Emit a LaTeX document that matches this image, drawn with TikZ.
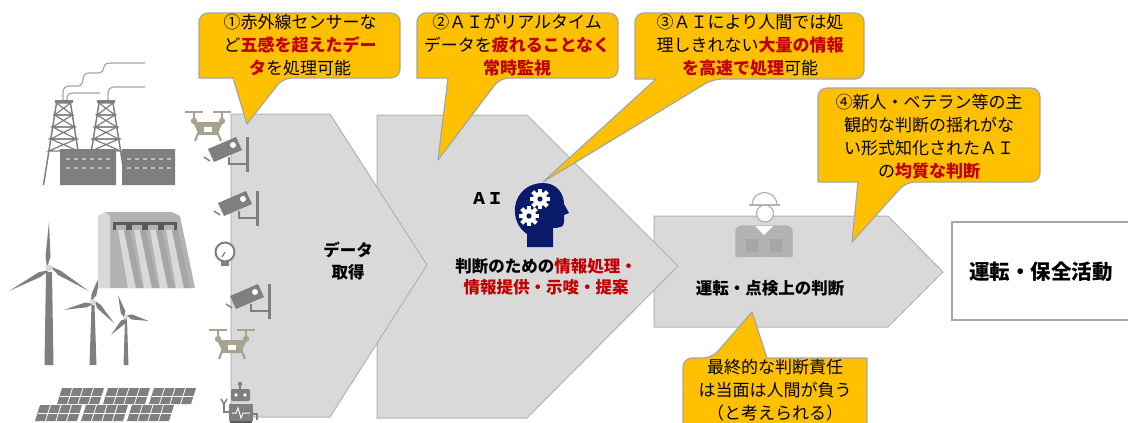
\documentclass[tikz,border=0pt]{standalone}
\usepackage{fontspec}
\setmainfont{Noto Sans CJK JP}
\usepackage{tikz}
\definecolor{chevfill}{HTML}{D9D9D9}
\definecolor{chevline}{HTML}{B3B3B3}
\definecolor{noteyellow}{HTML}{FFC000}
\definecolor{noteline}{HTML}{A6A6A6}
\definecolor{keyred}{HTML}{C00000}
\definecolor{icongray}{HTML}{7F7F7F}
\definecolor{dronegray}{HTML}{A6A38F}
\definecolor{headnavy}{HTML}{0A1A6A}
\newcommand{\keyword}[1]{\textcolor{keyred}{\bfseries #1}}

\tikzset{
	camera/.pic={
		\fill[icongray] (-39,12) -- (-11,0) -- (-5,13) -- (-33,25) -- cycle;
		\fill[white] (-14,8) circle (3);
		\draw[icongray, line width=3] (0,0) -- (0,35);
		\draw[icongray, line width=2.5] (-18,20) -- (-18,27) -- (0,27);
		\draw[icongray, line width=1.5] (-43,20) -- (-37,24);
	},
	drone/.pic={
		\draw[dronegray, line width=1.5] (-23,2) -- (-5,2) (5,2) -- (23,2);
		\draw[dronegray, line width=2.5] (-14,2) -- (-14,9) (14,2) -- (14,9);
		\fill[dronegray] (-14,11) circle (3.2) (14,11) circle (3.2);
		\fill[dronegray] (-15,12) -- (15,12) -- (9,25) -- (-9,25) -- cycle;
		\draw[dronegray, line width=2.2] (-9,21) -- (-13,31) (9,21) -- (13,31);
		\fill[white] (-4,17) rectangle (4,22);
	},
	tower/.pic={
		\draw[icongray, line width=1.5] (-7,0) -- (-20,82) (7,0) -- (20,82);
		\foreach \a/\b in {0/12,12/24,24/36,36/48}
			\draw[icongray, line width=1.2] ({-7-\a*0.16},\a) -- ({7+\a*0.16},\a) -- ({-7-\b*0.16},\b) -- ({7+\b*0.16},\b) -- cycle;
		\fill[icongray] (-9,-3) rectangle (9,0);
	},
	blade/.pic={
		\fill[icongray] (0,-2) -- (#1*0.25,-3.5) -- (#1,0) -- (#1*0.25,1.5) -- cycle;
	},
	panel/.pic={
		\fill[icongray] (0,0) -- (42,0) -- (37,16) -- (-5,16) -- cycle;
		\draw[white, line width=0.8] (-2.5,8) -- (39.5,8);
		\foreach \i in {1,2,3}
			\draw[white, line width=0.8] (\i*10.5,0) -- (\i*10.5-5,16);
	},
	gear/.pic={
		\fill[white] (0,0) circle (5.5);
		\foreach \a in {0,45,...,315}
			\fill[white, rotate=\a] (-1.6,4) rectangle (1.6,8);
		\fill[headnavy] (0,0) circle (2);
	}
}

\begin{document}
\begin{tikzpicture}[x=1pt, y=-1pt,
	chevron/.style={fill=chevfill, draw=chevline, line width=1pt},
	callout/.style={fill=noteyellow, draw=noteline, line width=1.2pt, line join=round},
	notetext/.style={font=\fontsize{17}{23}\selectfont, align=center, inner sep=0},
	stagetext/.style={font=\bfseries\fontsize{16.5}{21.5}\selectfont, align=center, inner sep=0}]
	\useasboundingbox (0,0) rectangle (1128,423);
	\clip (0,0) rectangle (1128,423);

	\draw[noteline, line width=1.2] (63,100) -- (63,92) to[out=90,in=180] (69,86) -- (78,86) to[out=0,in=-90] (83,79) to[out=90,in=180] (89,73) -- (99,73) to[out=0,in=-90] (104,67) to[out=90,in=180] (111,63) -- (145,63);
	\draw[noteline, line width=1.2] (67,100) -- (67,97) to[out=90,in=180] (72,93) -- (100,93);
	\draw[noteline, line width=1.2] (108,100) -- (108,93) to[out=90,in=180] (114,87) -- (145,87);
	\pic at (63.5,103) {tower};
	\pic at (106,103) {tower};
	\fill[icongray] (60,149) rectangle (116,185) (122,149) rectangle (175,185);
	\draw[chevfill!70!icongray, dash pattern=on 4pt off 4pt, line width=1.2] (66,159) -- (112,159) (66,168) -- (112,168) (127,159) -- (171,159) (127,168) -- (171,168);

	\fill[icongray] (46,272) -- (52,272) -- (53.5,365) -- (44.5,365) -- cycle;
	\fill[icongray] (91.5,305) -- (94.5,305) -- (96.5,365) -- (89.5,365) -- cycle;
	\fill[icongray] (125,320) -- (127,320) -- (128.5,365) -- (123.5,365) -- cycle;
	\foreach \a in {90,210,330} \pic[rotate=\a] at (49,268) {blade=46};
	\foreach \a in {75,195,315} \pic[rotate=\a] at (93,302) {blade=30};
	\foreach \a in {110,230,350} \pic[rotate=\a] at (126,317) {blade=23};
	\fill[chevfill] (49,268) circle (3.5) (93,302) circle (3) (126,317) circle (2.5);

	\fill[chevline] (98,216) -- (106,212) -- (172,212) -- (180,216) -- (195,288) -- (98,288) -- cycle;
	\fill[chevfill] (98,216) -- (106,212) -- (110,216) -- (110,288) -- (98,288) -- cycle;
	\foreach \i in {0,1,2,3} {
		\fill[chevfill] (118+16*\i,230) -- (124+16*\i,230) -- (136+16*\i,288) -- (128+16*\i,288) -- cycle;
		\fill[noteline] (124+16*\i,230) -- (130+16*\i,230) -- (142+16*\i,288) -- (136+16*\i,288) -- cycle;
		\draw[icongray!70!black, line width=3] (114+16*\i,230) -- (114+16*\i,223) -- (127+16*\i,223) -- (127+16*\i,230);
	}

	\foreach \x in {62,108,154} \pic at (\x,388) {panel};
	\foreach \x in {40,86,132} \pic at (\x,405) {panel};

	\draw[chevron] (654,216) -- (888,216) -- (943,272) -- (888,327) -- (654,327) -- cycle;
	\draw[chevron] (377,115) -- (527,115) -- (678,266) -- (527,418) -- (377,418) -- cycle;
	\draw[chevron] (231,114) -- (330,114) -- (427,265) -- (330,417) -- (231,417) -- cycle;
	\draw[noteline, line width=2.5, fill=white] (952,222) rectangle (1134,320);

	\pic at (208,110) {drone};
	\pic at (232,328) {drone};
	\pic at (247,137) {camera};
	\pic at (257,191) {camera};
	\pic at (269,284) {camera};
	\draw[icongray, line width=2, fill=white] (225,252) circle (9.5);
	\draw[icongray, line width=1.2] (225,252) -- (222,257);
	\fill[icongray] (221,261) rectangle (229,266);

	\fill[icongray] (240,384) circle (2.2);
	\draw[icongray, line width=1.5] (240,384) -- (240,389);
	\fill[icongray, rounded corners=2] (231,389) rectangle (250,401);
	\fill[white] (236,395) circle (1.8) (245,395) circle (1.8);
	\fill[icongray] (229,404) rectangle (253,421);
	\draw[white, line width=1] (232,413) -- (236,413) -- (238,408) -- (241,418) -- (243,413) -- (250,413);
	\draw[icongray, line width=2.5] (229,412) -- (224,412) -- (224,404);
	\draw[icongray, line width=1.5] (221,399) -- (224,404) -- (227,399);
	\draw[icongray, line width=2.5] (253,414) -- (257,414) -- (257,420);
	\fill[icongray!70!black] (230,421) rectangle (252,427);

	\fill[headnavy] (527,247) -- (527,234) .. controls (518,228) and (514,218) .. (515,207) .. controls (517,192) and (529,183) .. (543,183) .. controls (557,183) and (564,194) .. (564,204) -- (569,213) -- (564,215) -- (564,222) .. controls (564,226) and (561,228) .. (553,228) -- (553,247) -- cycle;
	\pic[scale=1.3] at (540,199) {gear};
	\pic[scale=1.3] at (529,216) {gear};

	\draw[icongray!60, line width=1.2, fill=chevline] (736,257) -- (736,232) [rounded corners=6] -- (736,226) -- (792,226) [sharp corners] -- (792,257);
	\fill[white] (755,226) -- (773,226) -- (764,235) -- cycle;
	\draw[icongray!60, line width=1] (764,235) -- (764,257) (743,240) -- (743,257) (785,240) -- (785,257);
	\fill[noteline] (746,239) rectangle (758,252) (770,239) rectangle (782,252);
	\draw[icongray!60, line width=1.2, fill=white] (765,213.5) circle (8.5);
	\draw[icongray!60, line width=1.2, fill=white] (752,205) arc[start angle=180, end angle=360, radius=12.5] -- cycle;
	\draw[icongray!60, line width=1.2] (749,205) -- (780,205);

	\node[stagetext] (acquire) at (348,261) {データ\\取得};
	\node[stagetext, font=\bfseries\fontsize{16}{20}\selectfont] (ailabel) at (487,199) {ＡＩ};
	\node[stagetext] (process) at (546,277) {判断のための\keyword{情報処理・}\\\keyword{情報提供・示唆・提案}};
	\node[stagetext] (judge) at (770,288) {運転・点検上の判断};
	\node[stagetext, font=\bfseries\fontsize{20.5}{24}\selectfont] (operate) at (1041,272) {運転・保全活動};

	\draw[callout] (247,124) -- (233,78) -- (199,78) [rounded corners=9] -- (199,13) -- (400,13) -- (400,78) -- (283,78) [sharp corners] -- cycle;
	\draw[callout] (438,160) -- (448,78) -- (417,78) [rounded corners=9] -- (417,13) -- (618,13) -- (618,78) -- (500,78) [sharp corners] -- cycle;
	\draw[callout] (543,182) -- (656,79) -- (635,79) [rounded corners=9] -- (635,13) -- (864,13) -- (864,79) -- (713,79) [sharp corners] -- cycle;
	\draw[callout] (852,242) -- (858,182) -- (818,182) [rounded corners=9] -- (818,88) -- (1040,88) -- (1040,182) -- (906,182) [sharp corners] -- cycle;
	\draw[callout] (752,312) -- (767,358) -- (867,358) [rounded corners=9] -- (867,440) -- (683,440) -- (683,358) -- (712,358) [sharp corners] -- cycle;

	\node[notetext] (note1) at (300,45) {①赤外線センサーな\\ど\keyword{五感を超えたデー}\\\keyword{タ}を処理可能};
	\node[notetext] (note2) at (517,45) {②ＡＩがリアルタイム\\データを\keyword{疲れることなく}\\\keyword{常時監視}};
	\node[notetext] (note3) at (750,45) {③ＡＩにより人間では処\\理しきれない\keyword{大量の情報}\\\keyword{を高速で処理}可能};
	\node[notetext] (note4) at (929,137) {④新人・ベテラン等の主\\観的な判断の揺れがな\\い形式知化されたＡＩ\\の\keyword{均質な判断}};
	\node[notetext] (note5) at (775,390) {最終的な判断責任\\は当面は人間が負う\\（と考えられる）};
\end{tikzpicture}
\end{document}
